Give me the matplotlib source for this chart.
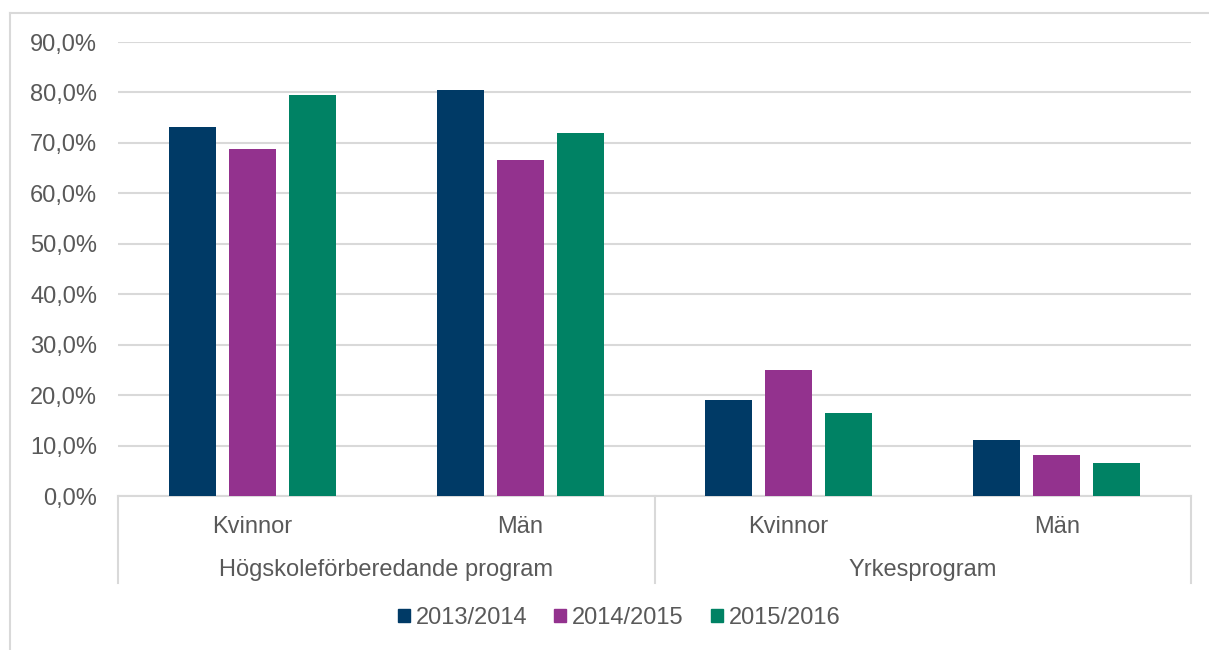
import matplotlib.pyplot as plt
from matplotlib.patches import Patch
from matplotlib.lines import Line2D
from matplotlib.ticker import FuncFormatter
import matplotlib.transforms as mtransforms

plt.rcParams['font.family'] = ['Liberation Sans', 'DejaVu Sans']

# DATA
subgroups = ["Kvinnor", "Män", "Kvinnor", "Män"]
groups = ["Högskoleförberedande program", "Yrkesprogram"]
years = ["2013/2014", "2014/2015", "2015/2016"]
v_2013 = [73.1, 80.4, 19.0, 11.2]
v_2014 = [68.8, 66.6, 24.9, 8.1]
v_2015 = [79.4, 72.0, 16.5, 6.5]
colors = ["#003A66", "#93328E", "#008264"]

W, H = 1209, 650
fig = plt.figure(figsize=(W / 100, H / 100), dpi=100)
ax = fig.add_axes([118 / W, 1 - 496 / H, 1073 / W, 454 / H])

text_c = "#595959"
grid_c = "#D9D9D9"
fs = 17

x = list(range(len(subgroups)))
bw = 0.175
step = 0.2235
for i, vals in enumerate([v_2013, v_2014, v_2015]):
    ax.bar([p + (i - 1) * step for p in x], vals, width=bw, color=colors[i],
           zorder=3, label=years[i])

ax.set_xlim(-0.5, 3.5)
ax.set_ylim(0, 90)
ax.set_yticks(range(0, 91, 10))
ax.yaxis.set_major_formatter(FuncFormatter(lambda v, p: f"{v:.1f}%".replace(".", ",")))
ax.tick_params(axis="y", length=0, labelsize=fs, labelcolor=text_c, pad=15)
ax.set_xticks([])
ax.grid(axis="y", color=grid_c, linewidth=1.5, zorder=0)
for s in ["top", "right", "left"]:
    ax.spines[s].set_visible(False)
ax.spines["bottom"].set_color(grid_c)
ax.spines["bottom"].set_linewidth(1.5)

# category axis labels
trans = mtransforms.blended_transform_factory(ax.transData, ax.transAxes)
y_sub = -(527 - 496) / 454
y_grp = -(570 - 496) / 454
y_sep = -(583 - 496) / 454
for p, lab in zip(x, subgroups):
    ax.text(p, y_sub, lab, transform=trans, ha="center", va="center",
            fontsize=fs, color=text_c)
ax.text(0.5, y_grp, groups[0], transform=trans, ha="center", va="center",
        fontsize=fs, color=text_c)
ax.text(2.5, y_grp, groups[1], transform=trans, ha="center", va="center",
        fontsize=fs, color=text_c)
for sx in [-0.5, 1.5, 3.5]:
    ax.plot([sx, sx], [0, y_sep], transform=trans, color=grid_c,
            linewidth=1.5, clip_on=False)

# legend
handles = [Patch(color=c) for c in colors]
fig.legend(handles, years, loc="center", bbox_to_anchor=(619 / W, 1 - 618 / H),
           ncol=3, frameon=False, fontsize=fs, labelcolor=text_c,
           handlelength=0.5, handleheight=0.5, handletextpad=0.25,
           columnspacing=1.15)

# outer frame
fig.add_artist(Line2D([10 / W, 10 / W], [0, 1 - 13 / H], color=grid_c, linewidth=1.5))
fig.add_artist(Line2D([10 / W, 1], [1 - 13 / H, 1 - 13 / H], color=grid_c, linewidth=1.5))

fig.savefig("out.png", dpi=100)
